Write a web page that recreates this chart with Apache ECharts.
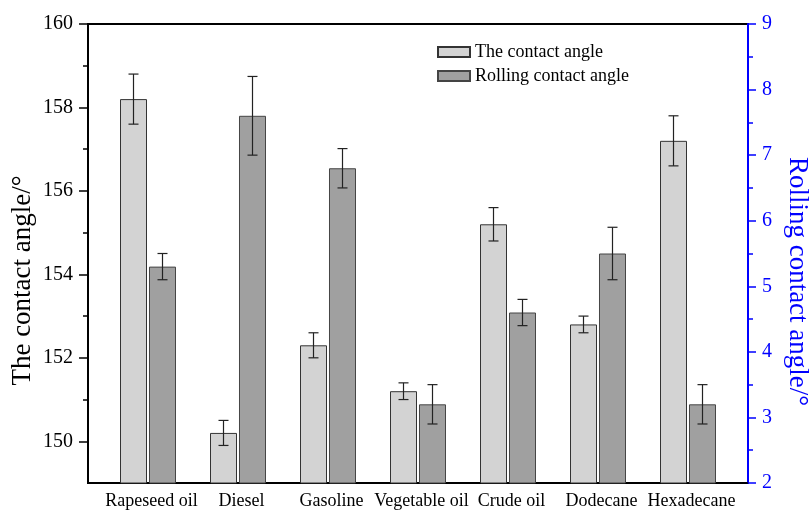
<!DOCTYPE html>
<html>
<head>
<meta charset="utf-8">
<script src="https://cdn.jsdelivr.net/npm/echarts@6/dist/echarts.min.js"></script>
<style>html,body{margin:0;padding:0;background:#fff}#c{width:812px;height:511px}</style>
</head>
<body>
<div id="c"></div>
<script>
var categories = ['Rapeseed oil', 'Diesel', 'Gasoline', 'Vegetable oil', 'Crude oil', 'Dodecane', 'Hexadecane'];
var contactAngle = [158.2, 150.2, 152.3, 151.2, 155.2, 152.8, 157.2];
var contactErr = [0.6, 0.3, 0.3, 0.2, 0.4, 0.2, 0.6];
var rollingAngle = [5.3, 7.6, 6.8, 3.2, 4.6, 5.5, 3.2];
var rollingErr = [0.2, 0.6, 0.3, 0.3, 0.2, 0.4, 0.3];
var leftTicks = [150, 152, 154, 156, 158, 160];
var leftMinorTicks = [151, 153, 155, 157, 159];
var rightTicks = [2, 3, 4, 5, 6, 7, 8, 9];

var FONT = 'Liberation Serif';
var xs = categories.map(function (c, i) { return i + 1; });

function barData(vals) { return vals.map(function (v, i) { return [xs[i], v]; }); }
function errData(vals, errs) { return vals.map(function (v, i) { return [xs[i], v - errs[i], v + errs[i]]; }); }

function errRender(dx) {
  return function (params, api) {
    var x = api.value(0);
    var lo = api.coord([x, api.value(1)]);
    var hi = api.coord([x, api.value(2)]);
    var cx = lo[0] + dx;
    var cw = 5;
    var st = { stroke: '#222', lineWidth: 1.2 };
    return {
      type: 'group',
      children: [
        { type: 'line', shape: { x1: cx, y1: lo[1], x2: cx, y2: hi[1] }, style: st },
        { type: 'line', shape: { x1: cx - cw, y1: lo[1], x2: cx + cw, y2: lo[1] }, style: st },
        { type: 'line', shape: { x1: cx - cw, y1: hi[1], x2: cx + cw, y2: hi[1] }, style: st }
      ]
    };
  };
}

var chart = echarts.init(document.getElementById('c'), null, { renderer: 'canvas' });
chart.setOption({
  animation: false,
  backgroundColor: '#fff',
  textStyle: { fontFamily: FONT },
  grid: {
    left: 88, right: 64, top: 24, bottom: 28, outerBoundsMode: 'none', containLabel: false,
    show: true, borderColor: '#000', borderWidth: 2, backgroundColor: 'transparent'
  },
  legend: {
    orient: 'vertical', left: 432, top: 38, itemWidth: 32, itemHeight: 10, itemGap: 6, icon: 'rect',
    data: ['The contact angle', 'Rolling contact angle'],
    textStyle: { fontFamily: FONT, fontSize: 18, color: '#000' }
  },
  xAxis: {
    type: 'value', min: 1 / 3, max: 7 + 2 / 3,
    axisLine: { show: true, lineStyle: { color: '#000', width: 1.5 } },
    axisTick: { show: false },
    splitLine: { show: false },
    axisLabel: {
      customValues: xs, fontFamily: FONT, fontSize: 18, color: '#000', margin: 9,
      padding: [0, 0, 0, 7],
      formatter: function (v) { return categories[Math.round(v) - 1] || ''; }
    }
  },
  yAxis: [
    {
      type: 'value', min: 149, max: 160, position: 'left',
      name: 'The contact angle/°', nameLocation: 'middle', nameRotate: 90, nameGap: 52, nameMoveOverlap: false,
      nameTextStyle: { fontFamily: FONT, fontSize: 27, color: '#000', padding: [0, 54, 0, 0] },
      axisLine: { show: true, lineStyle: { color: '#000', width: 2 } },
      axisTick: { show: true, customValues: leftTicks, length: 9, lineStyle: { color: '#000', width: 1.5 } },
      axisLabel: { customValues: leftTicks, fontFamily: FONT, fontSize: 20, color: '#000', margin: 15 },
      splitLine: { show: false }
    },
    {
      type: 'value', min: 2, max: 9, interval: 1, position: 'right',
      name: 'Rolling contact angle/°', nameLocation: 'middle', nameRotate: -90, nameGap: 36,
      nameTextStyle: { fontFamily: FONT, fontSize: 27, color: '#0000ff', padding: [0, 0, 0, 56] },
      axisLine: { show: true, lineStyle: { color: '#0000ff', width: 2 } },
      axisTick: { show: true, length: 8, lineStyle: { color: '#0000ff', width: 1.5 } },
      minorTick: { show: true, splitNumber: 2, length: 5, lineStyle: { color: '#0000ff', width: 1.5 } },
      axisLabel: { customValues: rightTicks, fontFamily: FONT, fontSize: 20, color: '#0000ff', margin: 14 },
      splitLine: { show: false }
    },
    {
      type: 'value', min: 149, max: 160, position: 'left',
      axisLine: { show: false },
      axisTick: { show: true, customValues: leftMinorTicks, length: 5, lineStyle: { color: '#000', width: 1.5 } },
      axisLabel: { show: false },
      splitLine: { show: false }
    }
  ],
  series: [
    {
      name: 'The contact angle', type: 'bar', yAxisIndex: 0, barWidth: 27, barGap: '7.4%',
      data: barData(contactAngle),
      itemStyle: { color: '#d3d3d3', borderColor: '#333', borderWidth: 1 }
    },
    {
      name: 'Rolling contact angle', type: 'bar', yAxisIndex: 1, barWidth: 27, barGap: '7.4%',
      data: barData(rollingAngle),
      itemStyle: { color: '#a0a0a0', borderColor: '#444', borderWidth: 1 }
    },
    {
      name: 'errA', type: 'custom', yAxisIndex: 0, renderItem: errRender(-14.5),
      encode: { x: 0, y: [1, 2] }, data: errData(contactAngle, contactErr), z: 5
    },
    {
      name: 'errB', type: 'custom', yAxisIndex: 1, renderItem: errRender(14.5),
      encode: { x: 0, y: [1, 2] }, data: errData(rollingAngle, rollingErr), z: 5
    }
  ]
});
</script>
</body>
</html>
